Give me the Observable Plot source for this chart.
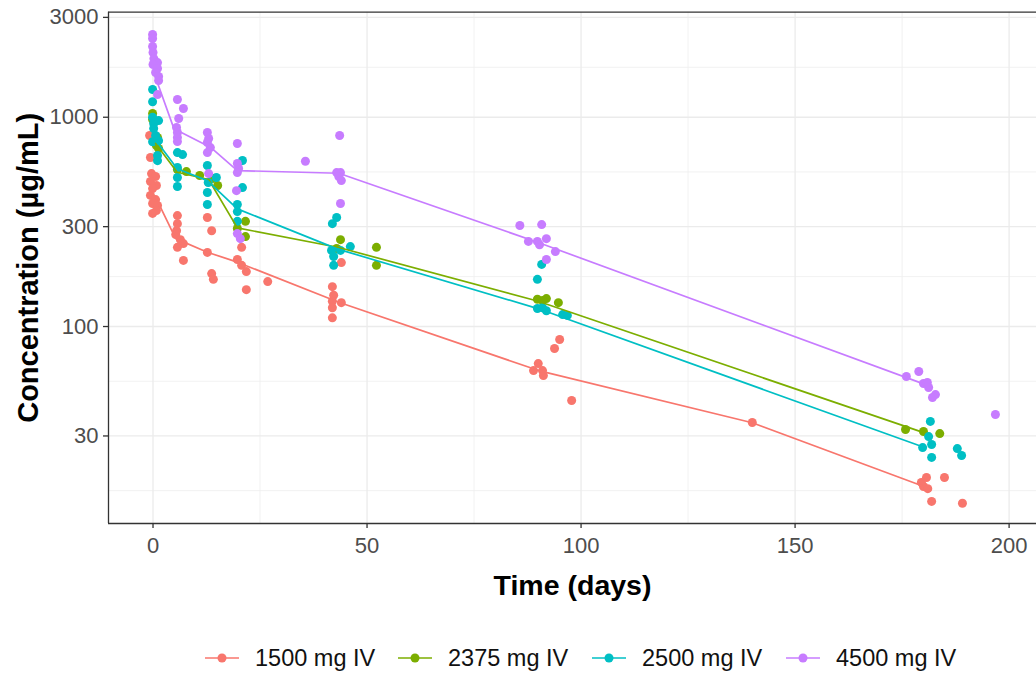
<!DOCTYPE html>
<html><head><meta charset="utf-8">
<script src="https://cdn.jsdelivr.net/npm/d3@7"></script>
<script src="https://cdn.jsdelivr.net/npm/@observablehq/plot@0.6"></script>
<style>
body{margin:0;background:#fff;font-family:"Liberation Sans",Arial,Helvetica,sans-serif;}
#wrap{position:relative;width:1036px;height:675px;overflow:hidden;}
#legend{position:absolute;left:0;top:640px;width:1036px;height:36px;}
.item{position:absolute;top:0;display:flex;align-items:center;height:36px;font-size:23.5px;color:#111;white-space:nowrap;}
.item svg{margin-right:16px;}
</style></head><body>
<div id="wrap"><div id="chart"></div><div id="legend"></div></div>
<script>
// ---- categories / style names
const groups = ["1500 mg IV", "2375 mg IV", "2500 mg IV", "4500 mg IV"];
const colors = ["#F8766D", "#7CAE00", "#00BFC4", "#C77CFF"];

// ---- axis ticks
const xTicks = [0, 50, 100, 150, 200];
const xMinor = [25, 75, 125, 175];
const yTicks = [30, 100, 300, 1000, 3000];
const yMinor = [16.43, 54.77, 173.2, 547.7, 1732];
const xDomain = [-10.4, 206.4];
const yDomain = [11.45, 3176];

// ---- observed points: 1500 mg IV
const days1500 = [-0.8,-0.6,-0.35,0.6,-0.6,0.8,-0.1,-0.6,0.6,-0.1,1.05,0.8,-0.1,
  5.7,5.7,5.5,5.3,6.4,7.1,5.7,7.1, 12.7,13.7,12.7,13.7,14.1, 20.7,19.7,20.7,21.8,21.8, 26.8,
  44,41.9,42.2,41.9,44,41.9,41.9, 95,93.8,90,88.9,91,91.2,97.8, 140,
  180.7,184.9,180,181,179.5,181.9,189.1];
const conc1500 = [818,642,538,521,493,472,456,423,404,387,379,358,347,
  339,310,287,275,260,249,239,207, 332,287,226,179,168, 239,209,196,183,150, 164,
  202,155,141,132,130,123,110, 86.7,78.5,66.5,61.6,61.6,58.3,44.3, 34.8,
  19.0,19.0,17.2,16.8,18.0,14.6,14.3];

// ---- observed points: 2375 mg IV
const days2375 = [-0.1,-0.1,1.05,0.8,1.3, 7.8,5.7, 10.9,15.1,13.9, 21.6,19.7,21.6,
  43.8,52.2,52.2,42.9, 89.8,91.9,94.7,91, 175.8,180,183.8];
const conc2375 = [1042,975,800,732,709, 550,562, 527,472,509, 318,294,269,
  260,239,196,236, 135,136,130,133, 32.2,31.5,30.8];

// ---- observed points: 2500 mg IV
const days2500 = [-0.1,-0.1,-0.1,0.15,1.3,0.15,-0.1,1.3,1.05,1.05,0.6,
  5.7,6.9,5.7,5.7,5.7, 12.7,14.8,12.9,12.7,12.7, 20.9,20.9,19.7,19.7,19.7,
  42.9,41.9,46.1,41.7,42.2,42.2,43.8, 90.8,89.8,89.8,91,91.9,95.7,96.8,
  181.6,181.2,179.8,181.9,181.9,187.9,188.9];
const conc2500 = [1357,1186,1000,933,964,884,764,773,656,620,818,
  678,663,575,515,467, 588,515,488,437,383, 621,461,383,354,318,
  332,310,241,231,216,196,231, 198,168,122,123,119,114,113,
  35.2,29.8,26.4,27.3,23.7,26.1,24.2];

// ---- observed points: 4500 mg IV
const days4500 = [-0.1,-0.1,-0.1,0,0.2,1.05,0,1.05,0.6,1.3,1.3,1.05,
  5.7,7.1,6,5.5,5.7,5.7,5.7, 12.7,13,12.7,13.4,12.7,13, 19.7,19.7,20,19.7,19.5,19.7,20.4,
  35.6, 43.6,42.9,43.8,43.4,44,43.8, 85.7,90.8,87.7,89.8,90.3,91.9,94,91.9,
  176,178.9,180,180.9,181.2,182.8,182.1,196.8];
const conc4500 = [2484,2377,2177,2038,1907,1824,1786,1710,1636,1565,1497,1283,
  1215,1101,986,893,845,800,765, 845,791,757,716,678,538, 749,601,569,544,446,278,263,
  616, 818,544,544,521,498,387, 304,307,255,255,246,263,228,209,
  57.7,61.0,53.4,54.0,51.1,47.3,45.8,38.0];

// ---- summary profile lines
const profDays1500 = [0.6,5.3,12.7,19.7,43.4,90.1,140,180.1];
const profConc1500 = [415,263,226.5,203,130.6,61.6,34.7,17.2];
const profDays2375 = [0.6,5.65,13,19.7,43.4,89.8,179.7];
const profConc2375 = [749,546,504,296,238.5,132.4,31.3];
const profDays2500 = [0.35,5.65,12.7,19.7,43,90.1,180.1];
const profConc2500 = [791,567,498,365,235,121.5,26.5];
const profDays4500 = [1,4.9,13.4,19.7,43.4,90,180];
const profConc4500 = [1469,880,719,556,540,252,53.2];

// ---- build tables
const obs = [], prof = [];
const obsSets = [[days1500,conc1500],[days2375,conc2375],[days2500,conc2500],[days4500,conc4500]];
const profSets = [[profDays1500,profConc1500],[profDays2375,profConc2375],[profDays2500,profConc2500],[profDays4500,profConc4500]];
groups.forEach((g,i)=>{
  obsSets[i][0].forEach((d,j)=>obs.push({group:g, day:d, conc:obsSets[i][1][j]}));
  profSets[i][0].forEach((d,j)=>prof.push({group:g, day:d, conc:profSets[i][1][j]}));
});

const W = 1036, H = 620;
const font = "'Liberation Sans', Arial, Helvetica, sans-serif";
const chart = Plot.plot({
  width: W, height: H,
  marginLeft: 108, marginRight: 0, marginTop: 11.7, marginBottom: H - 523,
  style: {fontFamily: font, background: "#fff", overflow: "visible"},
  x: {domain: xDomain, label: null},
  y: {type: "log", domain: yDomain, label: null},
  color: {domain: groups, range: colors},
  marks: [
    Plot.gridX(xMinor, {stroke: "#EEEEEE", strokeOpacity: 1, strokeWidth: 0.8}),
    Plot.gridY(yMinor, {stroke: "#EEEEEE", strokeOpacity: 1, strokeWidth: 0.8}),
    Plot.gridX(xTicks, {stroke: "#EBEBEB", strokeOpacity: 1, strokeWidth: 1.3}),
    Plot.gridY(yTicks, {stroke: "#EBEBEB", strokeOpacity: 1, strokeWidth: 1.3}),
    Plot.dot(obs, {x: "day", y: "conc", fill: "group", r: 4.5, stroke: "none"}),
    Plot.line(prof, {x: "day", y: "conc", stroke: "group", z: "group", strokeWidth: 1.7}),
    Plot.ruleX([xDomain[0]], {stroke: "#333333", strokeWidth: 1.3}),
    Plot.ruleY([yDomain[0]], {stroke: "#333333", strokeWidth: 1.3}),
    Plot.ruleY([yDomain[1]], {stroke: "#333333", strokeWidth: 1.3}),
    Plot.axisX({ticks: xTicks, tickSize: 5, tickPadding: 9, fontSize: 22, tickFormat: d => String(d), label: null}),
    Plot.axisY({ticks: yTicks, tickSize: 5, tickPadding: 5, fontSize: 22, tickFormat: d => String(d), label: null}),
    Plot.text(["Time (days)"], {text: d => d, frameAnchor: "bottom", dy: 62, fontSize: 28.5, fontWeight: "bold", fill: "#000", lineAnchor: "middle", textAnchor: "middle"}),
    Plot.text(["Concentration (µg/mL)"], {text: d => d, frameAnchor: "left", dx: -80, rotate: -90, fontSize: 29, fontWeight: "bold", fill: "#000", lineAnchor: "middle", textAnchor: "middle"})
  ]
});
document.getElementById("chart").appendChild(chart);
const svg = d3.select(chart);
svg.selectAll('[aria-label="x-axis tick"], [aria-label="y-axis tick"]').attr("stroke", "#333333").attr("stroke-width", 1.3);
svg.selectAll('[aria-label="x-axis tick label"], [aria-label="y-axis tick label"]').attr("fill", "#4D4D4D");

// ---- legend (HTML below the SVG)
const legendLefts = [205, 398, 592, 786];
const leg = document.getElementById("legend");
groups.forEach((g,i)=>{
  const it = document.createElement("div");
  it.className = "item";
  it.style.left = legendLefts[i] + "px";
  it.innerHTML = `<svg width="34" height="20"><line x1="0" x2="34" y1="10" y2="10" stroke="${colors[i]}" stroke-width="1.7"/><circle cx="17" cy="10" r="4.5" fill="${colors[i]}"/></svg><span>${g}</span>`;
  leg.appendChild(it);
});
</script>
</body></html>
